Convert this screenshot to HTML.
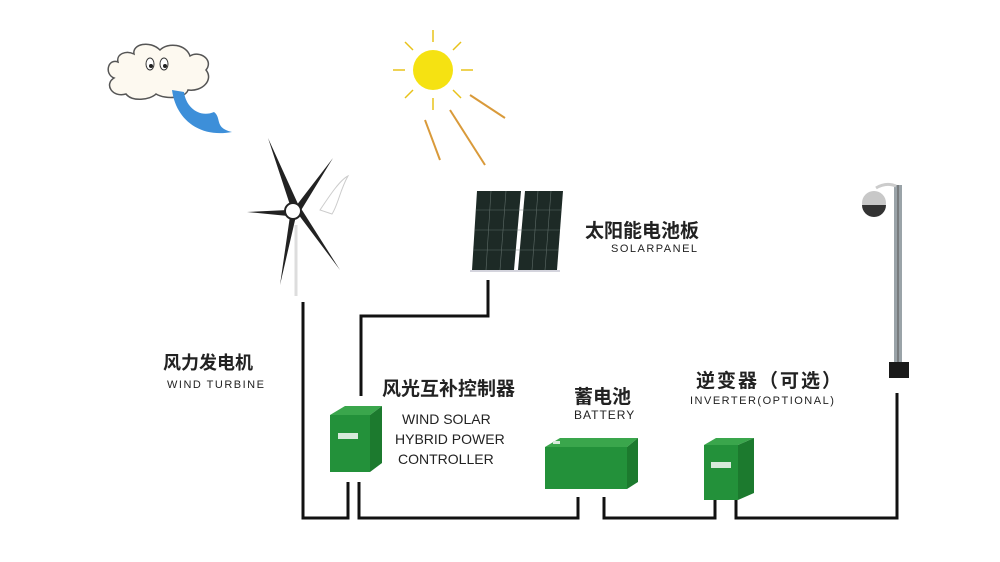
<!DOCTYPE html>
<html><head><meta charset="utf-8"><style>
html,body{margin:0;padding:0;background:#fff;width:1000px;height:562px;overflow:hidden}
svg{display:block}
.cn{font-family:"Liberation Sans","Noto Sans CJK SC",sans-serif;font-weight:bold;fill:#222}
.en{font-family:"Liberation Sans",sans-serif;fill:#222}
</style></head><body>
<svg width="1000" height="562" viewBox="0 0 1000 562" xmlns="http://www.w3.org/2000/svg">
<!-- cloud -->
<path d="M118,62 C108,58 104,74 114,78 C104,84 112,98 126,94 C132,102 150,100 156,94 C166,100 186,98 188,90 C202,92 214,80 206,70 C214,60 200,50 190,56 C186,44 168,42 160,50 C150,40 132,44 134,54 C126,50 116,54 118,62 Z" fill="#fdf9f0" stroke="#555" stroke-width="1.5"/>
<ellipse cx="150" cy="64" rx="4" ry="6" fill="#fff" stroke="#333"/><circle cx="151" cy="66" r="2" fill="#222"/>
<ellipse cx="164" cy="64" rx="4" ry="6" fill="#fff" stroke="#333"/><circle cx="165" cy="66" r="2" fill="#222"/>
<path d="M172,90 C176,120 200,138 232,132 C214,128 222,118 214,112 C200,118 186,108 184,92 Z" fill="#3d8fd9"/>
<!-- sun -->
<circle cx="433" cy="70" r="20" fill="#f5e212"/>
<g stroke="#e8c21a" stroke-width="1.5">
<line x1="433" y1="42" x2="433" y2="30"/><line x1="433" y1="98" x2="433" y2="110"/>
<line x1="405" y1="70" x2="393" y2="70"/><line x1="461" y1="70" x2="473" y2="70"/>
<line x1="413" y1="50" x2="405" y2="42"/><line x1="453" y1="50" x2="461" y2="42"/>
<line x1="413" y1="90" x2="405" y2="98"/><line x1="453" y1="90" x2="461" y2="98"/>
</g>
<g stroke="#d99a3a" stroke-width="2">
<line x1="425" y1="120" x2="440" y2="160"/><line x1="450" y1="110" x2="485" y2="165"/><line x1="470" y1="95" x2="505" y2="118"/>
</g>
<!-- turbine -->
<line x1="296" y1="225" x2="296" y2="296" stroke="#ddd" stroke-width="3"/>
<path d="M320,210 C330,195 340,180 348,176 C340,190 338,205 332,214 Z" fill="none" stroke="#ccc"/>
<g fill="#222">
<path d="M290,205 L268,138 L298,204 Z"/>
<path d="M296,206 L333,158 L300,212 Z"/>
<path d="M288,210 L247,212 L288,216 Z"/>
<path d="M290,216 L280,285 L296,216 Z"/>
<path d="M298,214 L340,270 L302,210 Z"/>
</g>
<circle cx="293" cy="211" r="8" fill="#fff" stroke="#222" stroke-width="2"/>
<!-- solar panel -->
<path d="M477,191 L521,191 L514,270 L472,270 Z" fill="#1d2a26"/>
<path d="M525,191 L563,191 L557,270 L518,270 Z" fill="#1d2a26"/>
<g stroke="#6d7b76" stroke-width="0.6" opacity="0.8">
<line x1="476" y1="210" x2="561" y2="210"/><line x1="475" y1="230" x2="560" y2="230"/><line x1="473" y1="250" x2="558" y2="250"/>
<line x1="491" y1="191" x2="486" y2="270"/><line x1="506" y1="191" x2="500" y2="270"/><line x1="538" y1="191" x2="532" y2="270"/><line x1="551" y1="191" x2="545" y2="270"/>
</g>
<line x1="470" y1="271" x2="560" y2="271" stroke="#aab" stroke-width="1"/>
<!-- wires -->
<g fill="none" stroke="#111" stroke-width="3">
<polyline points="303,302 303,518 348,518 348,482"/>
<polyline points="488,280 488,316 361,316 361,396"/>
<polyline points="359,482 359,518 578,518 578,497"/>
<polyline points="604,497 604,518 715,518 715,500"/>
<polyline points="736,500 736,518 897,518 897,393"/>
</g>
<!-- controller -->
<path d="M330,415 L345,406 L382,406 L370,415 Z" fill="#3aa64c"/>
<path d="M370,415 L382,406 L382,463 L370,472 Z" fill="#1c7a2e"/>
<rect x="330" y="415" width="40" height="57" fill="#23913a"/>
<rect x="338" y="433" width="20" height="6" fill="#d7eadb"/>
<!-- battery -->
<path d="M545,447 L560,438 L638,438 L627,447 Z" fill="#3aa64c"/>
<rect x="553" y="441" width="7" height="3" fill="#d7eadb"/>
<path d="M627,447 L638,438 L638,482 L627,489 Z" fill="#1c7a2e"/>
<rect x="545" y="447" width="82" height="42" fill="#23913a"/>
<!-- inverter -->
<path d="M704,445 L716,438 L754,438 L738,445 Z" fill="#3aa64c"/>
<path d="M738,445 L754,438 L754,493 L738,500 Z" fill="#1c7a2e"/>
<rect x="704" y="445" width="34" height="55" fill="#23913a"/>
<rect x="711" y="462" width="20" height="6" fill="#d7eadb"/>
<!-- lamp -->
<rect x="894" y="185" width="8" height="178" fill="#9aa3a8"/>
<line x1="898" y1="185" x2="898" y2="363" stroke="#555" stroke-width="1"/>
<path d="M876,188 Q886,182 896,186" fill="none" stroke="#ccc" stroke-width="3"/>
<circle cx="874" cy="203" r="12" fill="#c8c8c8"/>
<path d="M862,205 A12,12 0 0,0 886,205 Z" fill="#333"/>
<rect x="889" y="362" width="20" height="16" fill="#1a1a1a"/>
<!-- text -->
<text x="163" y="369" class="cn" font-size="18">风力发电机</text>
<text x="167" y="388" class="en" font-size="11" letter-spacing="1.5">WIND TURBINE</text>
<text x="585" y="237" class="cn" font-size="19">太阳能电池板</text>
<text x="611" y="252" class="en" font-size="11" letter-spacing="1.5">SOLARPANEL</text>
<text x="382" y="395" class="cn" font-size="19">风光互补控制器</text>
<text x="402" y="424" class="en" font-size="14">WIND SOLAR</text>
<text x="395" y="444" class="en" font-size="14">HYBRID POWER</text>
<text x="398" y="464" class="en" font-size="14">CONTROLLER</text>
<text x="574" y="403" class="cn" font-size="19">蓄电池</text>
<text x="574" y="419" class="en" font-size="12" letter-spacing="1">BATTERY</text>
<text x="696" y="387" class="cn" font-size="19" letter-spacing="2">逆变器（可选）</text>
<text x="690" y="404" class="en" font-size="11" letter-spacing="1.5">INVERTER(OPTIONAL)</text>
</svg>
</body></html>
